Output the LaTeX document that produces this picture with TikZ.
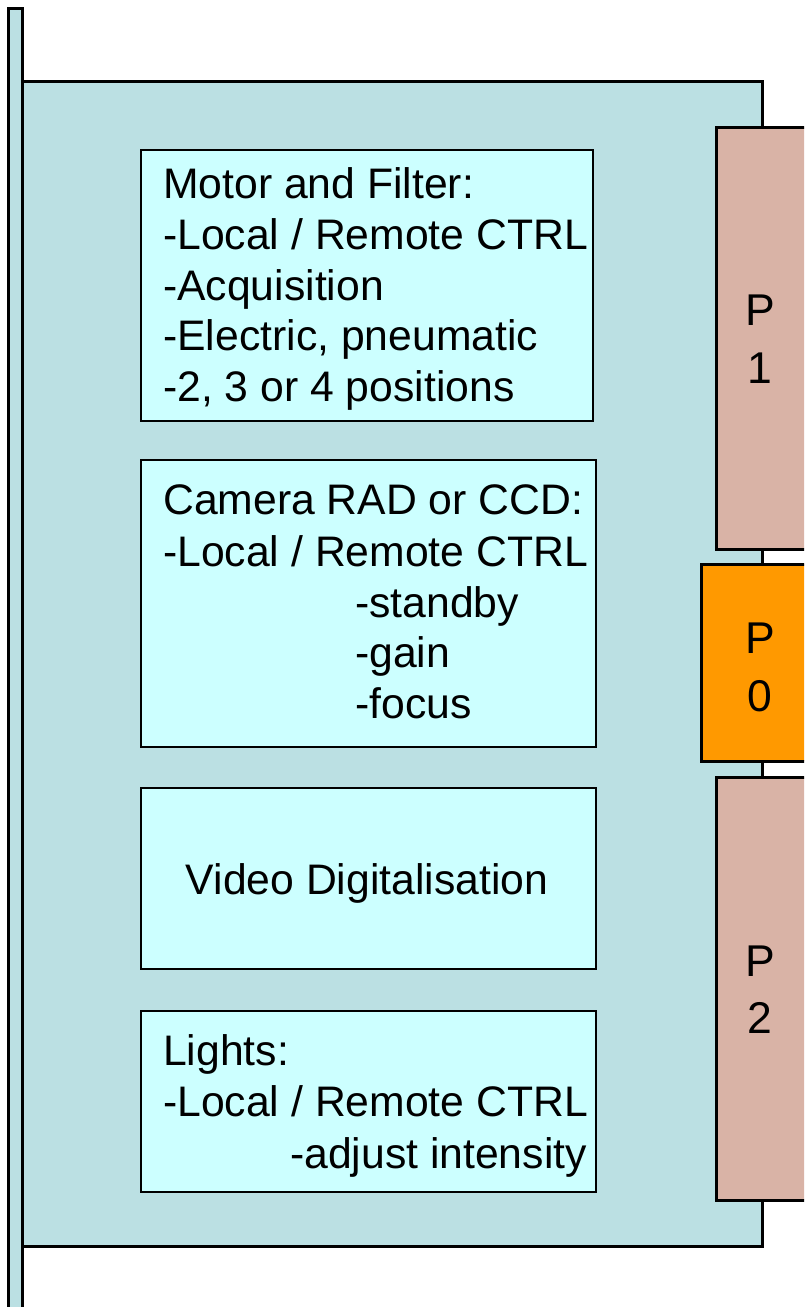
\documentclass[tikz,border=0pt]{standalone}
\usepackage{fontspec}
\setmainfont{Liberation Sans}
\definecolor{panelfill}{HTML}{BBE0E3}
\definecolor{boxfill}{HTML}{CCFFFF}
\definecolor{portfill}{HTML}{D9B3A6}
\definecolor{orangefill}{HTML}{FF9900}
\tikzset{
  outer/.style={draw=black, line width=3pt},
  inbox/.style={draw=black, line width=2pt, fill=boxfill},
  txt/.style={inner sep=0pt, font=\fontsize{42.7}{50}\selectfont, anchor=base west},
  ptxt/.style={inner sep=0pt, font=\fontsize{44.5}{56}\selectfont, anchor=base},
}
\begin{document}
\begin{tikzpicture}[x=1pt, y=-1pt]
\useasboundingbox (0,0) rectangle (804,1307);
\clip (0,0) rectangle (804,1307);
% main panel
\draw[outer, fill=panelfill] (22,81.5) rectangle (762,1246);
% left bar
\draw[outer, fill=panelfill] (8.5,8.5) rectangle (22,1330);
% ports
\draw[outer, fill=portfill] (716,127) rectangle (830,549);
\draw[outer, fill=orangefill] (701,564) rectangle (830,761);
\draw[outer, fill=portfill] (716,777) rectangle (830,1200);
\node[ptxt] (p1a) at (760,325) {P};
\node[ptxt] (p1b) at (760,383) {1};
\node[ptxt] (p0a) at (760,653) {P};
\node[ptxt] (p0b) at (760,711) {0};
\node[ptxt] (p2a) at (760,976) {P};
\node[ptxt] (p2b) at (760,1033) {2};
% inner boxes
\draw[inbox] (141,149.5) rectangle (592.5,421);
\draw[inbox] (141,459.5) rectangle (595.5,746.5);
\draw[inbox] (141,787.5) rectangle (595.5,969);
\draw[inbox] (141,1010.5) rectangle (595.5,1192);
% box 1 text
\node[txt] (m1) at (163,198.7) {Motor and Filter:};
\node[txt] (m2) at (163,249.5) {-Local / Remote CTRL};
\node[txt] (m3) at (163,300) {-Acquisition};
\node[txt] (m4) at (163,350.5) {-Electric, pneumatic};
\node[txt] (m5) at (163,401) {-2, 3 or 4 positions};
% box 2 text
\node[txt] (c1) at (163,514) {Camera RAD or CCD:};
\node[txt] (c2) at (163,566.5) {-Local / Remote CTRL};
\node[txt] (c3) at (355,617) {-standby};
\node[txt] (c4) at (355,667.5) {-gain};
\node[txt] (c5) at (355,718) {-focus};
% box 3 text
\node[txt, anchor=base] (v1) at (367,894) {Video Digitalisation};
% box 4 text
\node[txt] (l1) at (163,1065) {Lights:};
\node[txt] (l2) at (163,1116.5) {-Local / Remote CTRL};
\node[txt, anchor=base east] (l3) at (587,1168) {-adjust intensity};
\end{tikzpicture}
\end{document}
